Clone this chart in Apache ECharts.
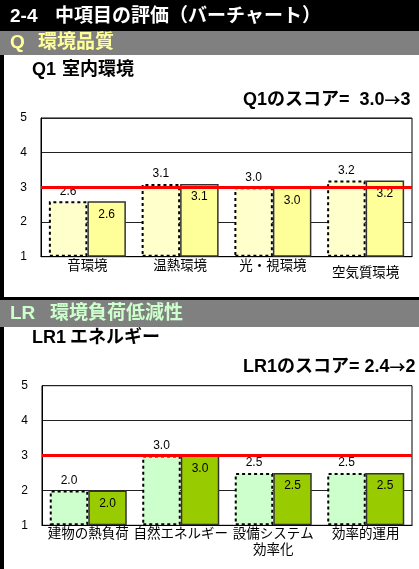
<!DOCTYPE html>
<html>
<head>
<meta charset="utf-8">
<script src="https://cdn.jsdelivr.net/npm/echarts@6/dist/echarts.min.js"></script>
<style>
  html, body { margin: 0; padding: 0; background: #fff; }
  #chart { width: 419px; height: 569px; }
</style>
</head>
<body>
<div id="chart"></div>
<script>
// Q1 室内環境
const q1Categories = ['音環境', '温熱環境', '光・視環境', '空気質環境'];
const q1Before = [2.6, 3.1, 3.0, 3.2];
const q1After = [2.6, 3.1, 3.0, 3.2];

// LR1 エネルギー
const lr1Categories = ['建物の熱負荷', '自然エネルギー', '設備システム\n効率化', '効率的運用'];
const lr1Before = [2.0, 3.0, 2.5, 2.5];
const lr1After = [2.0, 3.0, 2.5, 2.5];

// score axis and the level-3 reference line
const scoreMin = 1;
const scoreMax = 5;
const scoreStep = 1;
const referenceLevel = 3;

const LATIN = "Arial, 'Liberation Sans', 'Noto Sans CJK JP', sans-serif";
const JP = "'Noto Sans CJK JP', Arial, sans-serif";

const chart = echarts.init(document.getElementById('chart'), null, { renderer: 'canvas' });

function fmt(p) { return Number(p.value).toFixed(1); }

function yAxisDef(gridIndex) {
  return {
    type: 'value', gridIndex: gridIndex,
    min: scoreMin, max: scoreMax, interval: scoreStep, startValue: scoreMin,
    axisLine: { show: true, lineStyle: { color: '#000', width: 1 } },
    axisTick: { show: false },
    splitLine: { show: true, lineStyle: { color: '#222', width: 1 } },
    axisLabel: { color: '#000', fontSize: 12, fontFamily: LATIN, margin: 14 }
  };
}

function xAxisDef(gridIndex, cats, lowIndex) {
  return {
    type: 'category', gridIndex: gridIndex, data: cats,
    axisLine: { show: true, lineStyle: { color: '#000', width: 1 } },
    axisTick: { show: false },
    axisLabel: {
      interval: 0, color: '#000', fontSize: 13.5, fontFamily: JP,
      lineHeight: 16, margin: 0,
      formatter: function (v, i) { return i === lowIndex ? '{low|' + v + '}' : v; },
      rich: { low: { fontSize: 13.5, fontFamily: JP, color: '#000', padding: [15, 0, 0, 0] } }
    }
  };
}

function barPair(idx, before, after, lightColor, mainColor) {
  return [
    {
      type: 'bar', xAxisIndex: idx, yAxisIndex: idx, data: before,
      barWidth: 38.5, barGap: '0%',
      itemStyle: { color: lightColor, borderColor: '#000', borderWidth: 2, borderType: [3, 3] },
      label: { show: true, position: 'top', distance: 4, color: '#000', fontSize: 12, fontFamily: LATIN, formatter: fmt }
    },
    {
      type: 'bar', xAxisIndex: idx, yAxisIndex: idx, data: after,
      barWidth: 38.5, barGap: '0%',
      itemStyle: { color: mainColor, borderColor: '#333', borderWidth: 1.5 },
      label: { show: true, position: 'insideTop', distance: 7, color: '#000', fontSize: 12, fontFamily: LATIN, formatter: fmt },
      markLine: {
        silent: true, symbol: ['none', 'none'], z: 10,
        label: { show: false },
        lineStyle: { color: '#ff0000', width: 3, type: 'solid' },
        data: [{ yAxis: referenceLevel }]
      }
    }
  ];
}

function txt(x, y, text, color, size, bold) {
  return {
    type: 'text', x: x, y: y, z: 20,
    style: {
      text: text, fill: color,
      font: (bold ? 'bold ' : '') + size + 'px ' + LATIN,
      verticalAlign: 'middle', align: 'left'
    }
  };
}

// score line: Latin text with a CJK arrow
function scoreTxt(x, y, head, tail) {
  const base = { fontSize: 18, fontWeight: 'bold', fontFamily: LATIN, fill: '#000', color: '#000' };
  return {
    type: 'text', x: x, y: y, z: 20,
    style: {
      text: '{a|' + head + '}{b|→}{a|' + tail + '}',
      verticalAlign: 'middle', align: 'left',
      rich: {
        a: base,
        b: { fontSize: 16, fontWeight: 'bold', fontFamily: JP, fill: '#000', color: '#000' }
      }
    }
  };
}

const graphics = [
  // header and section bands
  { type: 'rect', shape: { x: 0, y: 0, width: 419, height: 31 }, style: { fill: '#000' }, z: 1 },
  { type: 'rect', shape: { x: 0, y: 31, width: 4, height: 538 }, style: { fill: '#000' }, z: 1 },
  { type: 'rect', shape: { x: 0, y: 31, width: 419, height: 24 }, style: { fill: '#808080' }, z: 2 },
  { type: 'rect', shape: { x: 0, y: 297, width: 419, height: 3 }, style: { fill: '#000' }, z: 2 },
  { type: 'rect', shape: { x: 0, y: 300, width: 419, height: 27 }, style: { fill: '#808080' }, z: 2 },
  txt(10, 17, '2-4', '#fff', 19, true),
  txt(55, 17, '中項目の評価（バーチャート）', '#fff', 19, true),
  txt(10, 43, 'Q', '#ffff99', 19, true),
  txt(38, 43, '環境品質', '#ffff99', 19, true),
  txt(10, 314, 'LR', '#ccffcc', 19, true),
  txt(50, 314, '環境負荷低減性', '#ccffcc', 19, true),
  txt(32, 70, 'Q1', '#000', 18, true),
  txt(62, 70, '室内環境', '#000', 18, true),
  txt(32, 338, 'LR1', '#000', 18, true),
  txt(70, 338, 'エネルギー', '#000', 18, true),
  scoreTxt(243, 100, 'Q1のスコア=  3.0', '3'),
  scoreTxt(243, 367, 'LR1のスコア= 2.4', '2')
];

chart.setOption({
  animation: false,
  backgroundColor: '#fff',
  graphic: graphics,
  grid: [
    { left: 41, right: 7, top: 118, height: 138.7, show: true, borderColor: '#000', borderWidth: 1, backgroundColor: '#fff', containLabel: false },
    { left: 42, right: 7, top: 385.7, height: 139.6, show: true, borderColor: '#000', borderWidth: 1, backgroundColor: '#fff', containLabel: false }
  ],
  xAxis: [xAxisDef(0, q1Categories, 3), xAxisDef(1, lr1Categories, -1)],
  yAxis: [yAxisDef(0), yAxisDef(1)],
  series: [].concat(
    barPair(0, q1Before, q1After, '#ffffcc', '#ffff99'),
    barPair(1, lr1Before, lr1After, '#ccffcc', '#99cc00')
  )
});
</script>
</body>
</html>
